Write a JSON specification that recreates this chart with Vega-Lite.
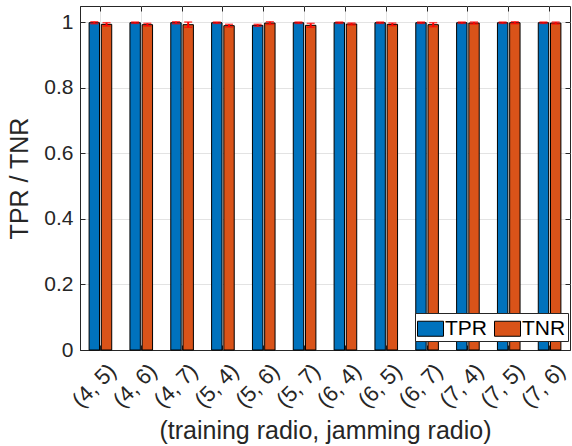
{
  "$schema": "https://vega.github.io/schema/vega-lite/v6.json",
  "autosize": {"type": "none"},
  "padding": {"left": 80, "top": 6, "right": 2, "bottom": 96},
  "width": 490,
  "height": 344,
  "background": "white",
  "config": {
    "view": {"stroke": "#262626", "strokeWidth": 1},
    "font": "Liberation Sans",
    "axis": {
      "labelFont": "Liberation Sans",
      "titleFont": "Liberation Sans",
      "labelColor": "#262626",
      "titleColor": "#262626",
      "titleFontWeight": "normal",
      "domainColor": "#262626",
      "tickColor": "#262626",
      "gridColor": "#e3e3e3",
      "gridWidth": 1
    }
  },
  "data": {
    "values": [
      {"pair": "(4, 5)", "metric": "TPR", "value": 0.999, "lo": 0.996, "hi": 1.002},
      {"pair": "(4, 5)", "metric": "TNR", "value": 0.994, "lo": 0.989, "hi": 0.999},
      {"pair": "(4, 6)", "metric": "TPR", "value": 0.999, "lo": 0.997, "hi": 1.001},
      {"pair": "(4, 6)", "metric": "TNR", "value": 0.993, "lo": 0.989, "hi": 0.997},
      {"pair": "(4, 7)", "metric": "TPR", "value": 0.999, "lo": 0.996, "hi": 1.002},
      {"pair": "(4, 7)", "metric": "TNR", "value": 0.993, "lo": 0.985, "hi": 1.001},
      {"pair": "(5, 4)", "metric": "TPR", "value": 0.999, "lo": 0.997, "hi": 1.001},
      {"pair": "(5, 4)", "metric": "TNR", "value": 0.990, "lo": 0.986, "hi": 0.994},
      {"pair": "(5, 6)", "metric": "TPR", "value": 0.991, "lo": 0.988, "hi": 0.994},
      {"pair": "(5, 6)", "metric": "TNR", "value": 0.998, "lo": 0.994, "hi": 1.002},
      {"pair": "(5, 7)", "metric": "TPR", "value": 0.999, "lo": 0.997, "hi": 1.001},
      {"pair": "(5, 7)", "metric": "TNR", "value": 0.991, "lo": 0.985, "hi": 0.997},
      {"pair": "(6, 4)", "metric": "TPR", "value": 0.999, "lo": 0.997, "hi": 1.001},
      {"pair": "(6, 4)", "metric": "TNR", "value": 0.995, "lo": 0.992, "hi": 0.998},
      {"pair": "(6, 5)", "metric": "TPR", "value": 0.999, "lo": 0.997, "hi": 1.001},
      {"pair": "(6, 5)", "metric": "TNR", "value": 0.994, "lo": 0.990, "hi": 0.998},
      {"pair": "(6, 7)", "metric": "TPR", "value": 0.999, "lo": 0.997, "hi": 1.001},
      {"pair": "(6, 7)", "metric": "TNR", "value": 0.993, "lo": 0.987, "hi": 0.999},
      {"pair": "(7, 4)", "metric": "TPR", "value": 0.999, "lo": 0.997, "hi": 1.001},
      {"pair": "(7, 4)", "metric": "TNR", "value": 0.998, "lo": 0.995, "hi": 1.001},
      {"pair": "(7, 5)", "metric": "TPR", "value": 0.999, "lo": 0.997, "hi": 1.001},
      {"pair": "(7, 5)", "metric": "TNR", "value": 0.999, "lo": 0.996, "hi": 1.002},
      {"pair": "(7, 6)", "metric": "TPR", "value": 0.999, "lo": 0.997, "hi": 1.001},
      {"pair": "(7, 6)", "metric": "TNR", "value": 0.998, "lo": 0.995, "hi": 1.001}
    ]
  },
  "encoding": {
    "x": {
      "field": "pair",
      "type": "nominal",
      "sort": null,
      "axis": null,
      "scale": {"paddingInner": 0.446, "paddingOuter": 0.223}
    },
    "xOffset": {
      "field": "metric",
      "type": "nominal",
      "sort": ["TPR", "TNR"],
      "scale": {"paddingInner": 0.15, "paddingOuter": 0}
    }
  },
  "layer": [
    {
      "mark": {"type": "bar", "stroke": "#000000", "strokeWidth": 1},
      "encoding": {
        "x": {
          "field": "pair",
          "type": "nominal",
          "sort": null,
          "axis": {
            "orient": "bottom",
            "title": "(training radio, jamming radio)",
            "titleFontSize": 25,
            "titleY": 68,
            "titleBaseline": "top",
            "labelFontSize": 22,
            "labelAngle": -45,
            "labelAlign": "right",
            "labelBaseline": "middle",
            "labelPadding": 22,
            "labelOffset": 12,
            "tickSize": -5,
            "bandPosition": 0.5,
            "grid": true,
            "domain": true
          }
        },
        "y": {
          "field": "value",
          "type": "quantitative",
          "scale": {"domain": [0, 1.05], "nice": false},
          "axis": {
            "orient": "left",
            "title": "TPR / TNR",
            "titleFontSize": 25,
            "titleX": -61,
            "titleBaseline": "middle",
            "labelFontSize": 21,
            "labelPadding": 12,
            "values": [0, 0.2, 0.4, 0.6, 0.8, 1],
            "format": "~g",
            "tickSize": -5,
            "grid": true
          }
        },
        "color": {
          "field": "metric",
          "type": "nominal",
          "sort": ["TPR", "TNR"],
          "scale": {"domain": ["TPR", "TNR"], "range": ["#0072BD", "#D95319"]},
          "legend": {
            "title": null,
            "orient": "none",
            "legendX": 335,
            "legendY": 307,
            "direction": "horizontal",
            "fillColor": "white",
            "strokeColor": "#262626",
            "padding": 2,
            "columnPadding": 5,
            "labelFontSize": 21,
            "labelFont": "Liberation Sans",
            "labelColor": "#000000",
            "labelOffset": 1,
            "symbolType": "M-1,-0.577H1V0.577H-1Z",
            "symbolSize": 676,
            "symbolStrokeColor": "#000000",
            "symbolStrokeWidth": 1,
            "symbolOpacity": 1
          }
        }
      }
    },
    {
      "mark": {"type": "rule", "color": "#FF0000", "strokeWidth": 2},
      "encoding": {
        "y": {"field": "lo", "type": "quantitative", "axis": null},
        "y2": {"field": "hi"}
      }
    },
    {
      "mark": {"type": "tick", "color": "#FF0000", "thickness": 1.5, "size": 8},
      "encoding": {
        "x": {
          "field": "pair",
          "type": "nominal",
          "sort": null,
          "axis": {
            "orient": "top",
            "labels": false,
            "title": null,
            "tickSize": -5,
            "bandPosition": 0.5,
            "grid": false,
            "domain": false
          }
        },
        "y": {
          "field": "lo",
          "type": "quantitative",
          "axis": {
            "orient": "right",
            "labels": false,
            "title": null,
            "values": [0, 0.2, 0.4, 0.6, 0.8, 1],
            "tickSize": -5,
            "grid": false,
            "domain": false
          }
        }
      }
    },
    {
      "mark": {"type": "tick", "color": "#FF0000", "thickness": 1.5, "size": 8},
      "encoding": {
        "y": {"field": "hi", "type": "quantitative", "axis": null}
      }
    }
  ],
  "resolve": {"axis": {"x": "independent", "y": "independent"}}
}
